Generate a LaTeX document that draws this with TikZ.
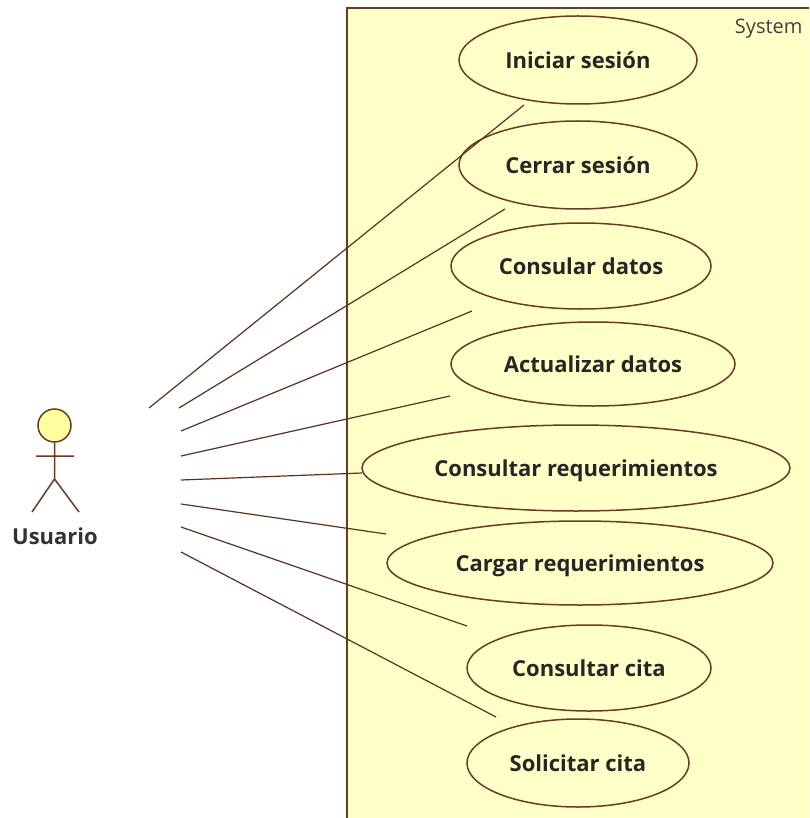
\documentclass[tikz,border=0pt]{standalone}
\usepackage{fontspec}
\setmainfont{Open Sans}
\usetikzlibrary{shapes.geometric}
\definecolor{umlline}{HTML}{6B3A22}
\definecolor{umlfill}{HTML}{FFFFC8}
\tikzset{
  usecase/.style={ellipse,draw=umlline,line width=1.5pt,inner sep=0pt,text depth=0pt,font=\fontsize{22}{26}\selectfont\bfseries,text=black!85},
  assoc/.style={draw=umlline!85!black,line width=1.2pt}
}
\begin{document}
\begin{tikzpicture}[x=1pt,y=-1pt]
\useasboundingbox (0,0) rectangle (809,818);
\fill[umlfill] (347,8) rectangle (809,818);
\draw[umlline,line width=2.2pt] (347,818) -- (347,8) -- (809,8);
\node[font=\fontsize{20}{24}\selectfont,text=black!75,anchor=east] (S) at (806,29) {System};
\node[usecase,minimum width=238pt,minimum height=88pt] (U1) at (578,60) {Iniciar sesión};
\node[usecase,minimum width=238pt,minimum height=88pt] (U2) at (578,165) {Cerrar sesión};
\node[usecase,minimum width=260pt,minimum height=86pt] (U3) at (581,266) {Consular datos};
\node[usecase,minimum width=284pt,minimum height=84pt] (U4) at (593,364) {Actualizar datos};
\node[usecase,minimum width=428pt,minimum height=86pt] (U5) at (576,468) {Consultar requerimientos};
\node[usecase,minimum width=386pt,minimum height=84pt] (U6) at (580,563) {Cargar requerimientos};
\node[usecase,minimum width=244pt,minimum height=86pt] (U7) at (589,668) {Consultar cita};
\node[usecase,minimum width=222pt,minimum height=88pt] (U8) at (578,763) {Solicitar cita};
% actor
\node[circle,draw=umlline,fill=umlfill!80!yellow,line width=1.5pt,minimum size=33pt,inner sep=0pt] (H) at (54.5,425.5) {};
\coordinate (N) at (54.5,479);
\coordinate (AL) at (36,456);
\coordinate (AR) at (74,456);
\coordinate (LL) at (32,512);
\coordinate (LR) at (79,512);
\node[font=\fontsize{22}{26}\selectfont\bfseries,text=black!80] (Usuario) at (55,536) {Usuario};
\path[draw=umlline,line width=1.5pt]
  (H) -- (N)
  (AL) -- (AR)
  (N) -- (LL)
  (N) -- (LR)
;
% associations
\coordinate (A1) at (149,408); \coordinate (B1) at (524,105);
\coordinate (A2) at (179,408); \coordinate (B2) at (505,209);
\coordinate (A3) at (181,431); \coordinate (B3) at (472,311);
\coordinate (A4) at (181,456); \coordinate (B4) at (450,396);
\coordinate (A5) at (181,480); \coordinate (B5) at (362,473);
\coordinate (A6) at (181,504); \coordinate (B6) at (386,534);
\coordinate (A7) at (181,527); \coordinate (B7) at (467,626);
\coordinate (A8) at (181,552); \coordinate (B8) at (496,717);
\foreach \i in {1,...,8}
  \draw[assoc] (A\i) -- (B\i);
\end{tikzpicture}
\end{document}
